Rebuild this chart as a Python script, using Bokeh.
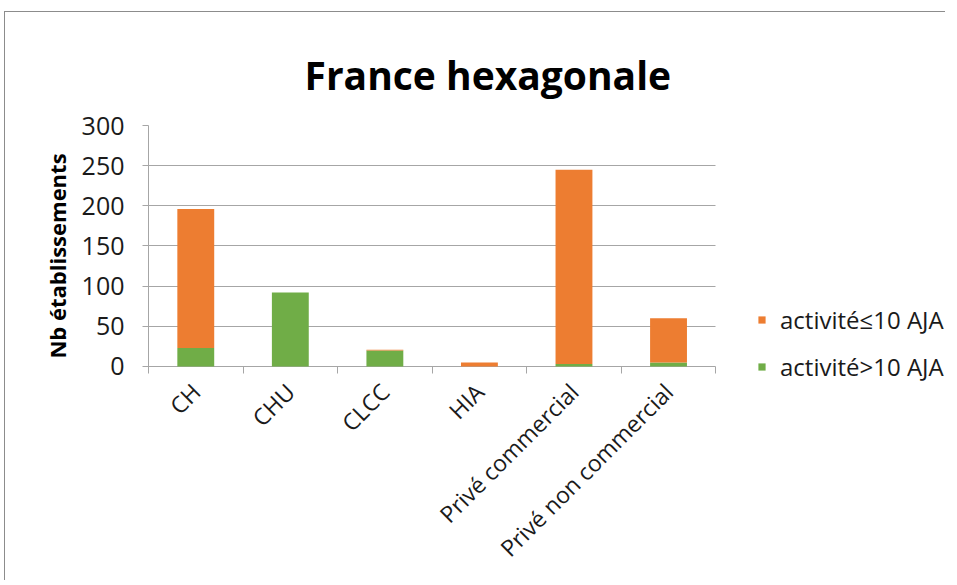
import numpy as np
from bokeh.plotting import figure
from bokeh.models import (Range1d, FixedTicker, Legend, LegendItem, Title,
                          ColumnDataSource)
from bokeh.embed import file_html
from bokeh.resources import INLINE

categories = ["CH", "CHU", "CLCC", "HIA", "Privé commercial", "Privé non commercial"]
gt10 = [23, 92, 20, 0, 3, 5]      # activité>10 AJA (green, bottom)
le10 = [173, 0, 1, 5, 242, 55]    # activité≤10 AJA (orange, top)
y_ticks = [0, 50, 100, 150, 200, 250, 300]
title_text = "France hexagonale"
y_label = "Nb établissements"
label_le10 = "activité≤10 AJA"
label_gt10 = "activité>10 AJA"

FONT = "Open Sans"
ORANGE = "#ED7D31"
GREEN = "#70AD47"
GRID = "#A6A6A6"
TXT = "#1a1a1a"

n = len(categories)
x = np.arange(n) + 0.5
src = ColumnDataSource(dict(x=x, gt10=gt10, le10=le10))

# frame extends to the right (legend area) and slightly below zero so the
# legend is not clipped; axis line / grid are bounded to the data region
p = figure(width=941, height=569, output_backend="svg", toolbar_location=None,
           x_range=Range1d(0, 8.44), y_range=Range1d(-24.9, 300),
           min_border_left=143, min_border_right=0, min_border_top=113,
           min_border_bottom=195)
p.outline_line_color = None
p.background_fill_color = "white"
p.border_fill_color = "white"

r = p.vbar_stack(["gt10", "le10"], x="x", width=0.39, source=src,
                 color=[GREEN, ORANGE], line_color=None)

# x axis: only the rotated category labels live in the bottom panel
xa = p.xaxis[0]
xa.bounds = (0, n)
xa.ticker = FixedTicker(ticks=list(x))
xa.major_label_overrides = {float(v): c for v, c in zip(x, categories)}
xa.major_label_orientation = np.pi / 4
xa.major_tick_line_color = None
xa.major_tick_out = 0
xa.major_tick_in = 0
xa.minor_tick_line_color = None
xa.axis_line_color = None
xa.major_label_text_font = FONT
xa.major_label_text_font_size = "23px"
xa.major_label_text_color = TXT
xa.major_label_standoff = 1

# category separators (tick marks below the zero line)
p.xgrid.ticker = FixedTicker(ticks=list(range(n + 1)))
p.xgrid.cross_bounds = (-8.7, 0)
p.xgrid.grid_line_color = GRID

# y axis
ya = p.yaxis[0]
ya.bounds = (-8.7, 300)
ya.ticker = FixedTicker(ticks=y_ticks)
ya.minor_tick_line_color = None
ya.major_tick_in = 0
ya.major_tick_out = 6
ya.major_tick_line_color = GRID
ya.axis_line_color = GRID
ya.major_label_text_font = FONT
ya.major_label_text_font_size = "25px"
ya.major_label_text_color = TXT
ya.major_label_standoff = 18
ya.axis_label = y_label
ya.axis_label_text_font = FONT
ya.axis_label_text_font_style = "bold"
ya.axis_label_text_font_size = "22px"
ya.axis_label_text_color = "#000000"
ya.axis_label_standoff = 7

p.ygrid.grid_line_color = GRID
p.ygrid.grid_line_width = 1
p.ygrid.bounds = (0, 300)
p.ygrid.cross_bounds = (0, n)

# title
t = Title(text=title_text, text_font=FONT, text_font_size="39px",
          text_font_style="bold", text_color="#000000", align="left",
          offset=156, standoff=50)
p.add_layout(t, "above")

# legend
legend = Legend(items=[LegendItem(label=label_le10, renderers=[r[1]]),
                       LegendItem(label=label_gt10, renderers=[r[0]])],
                location=(609, 3), padding=0, margin=0,
                glyph_width=9, glyph_height=9, label_standoff=14,
                label_height=30, spacing=14,
                label_text_font=FONT, label_text_font_size="24px",
                label_text_color=TXT,
                border_line_color=None, background_fill_alpha=0)
p.add_layout(legend, "center")

p.styles = {"border-left": "1px solid #8c8c8c", "border-top": "1px solid #8c8c8c",
            "margin-left": "4px", "margin-top": "11px"}

open("out.html", "w").write(file_html(p, INLINE))
